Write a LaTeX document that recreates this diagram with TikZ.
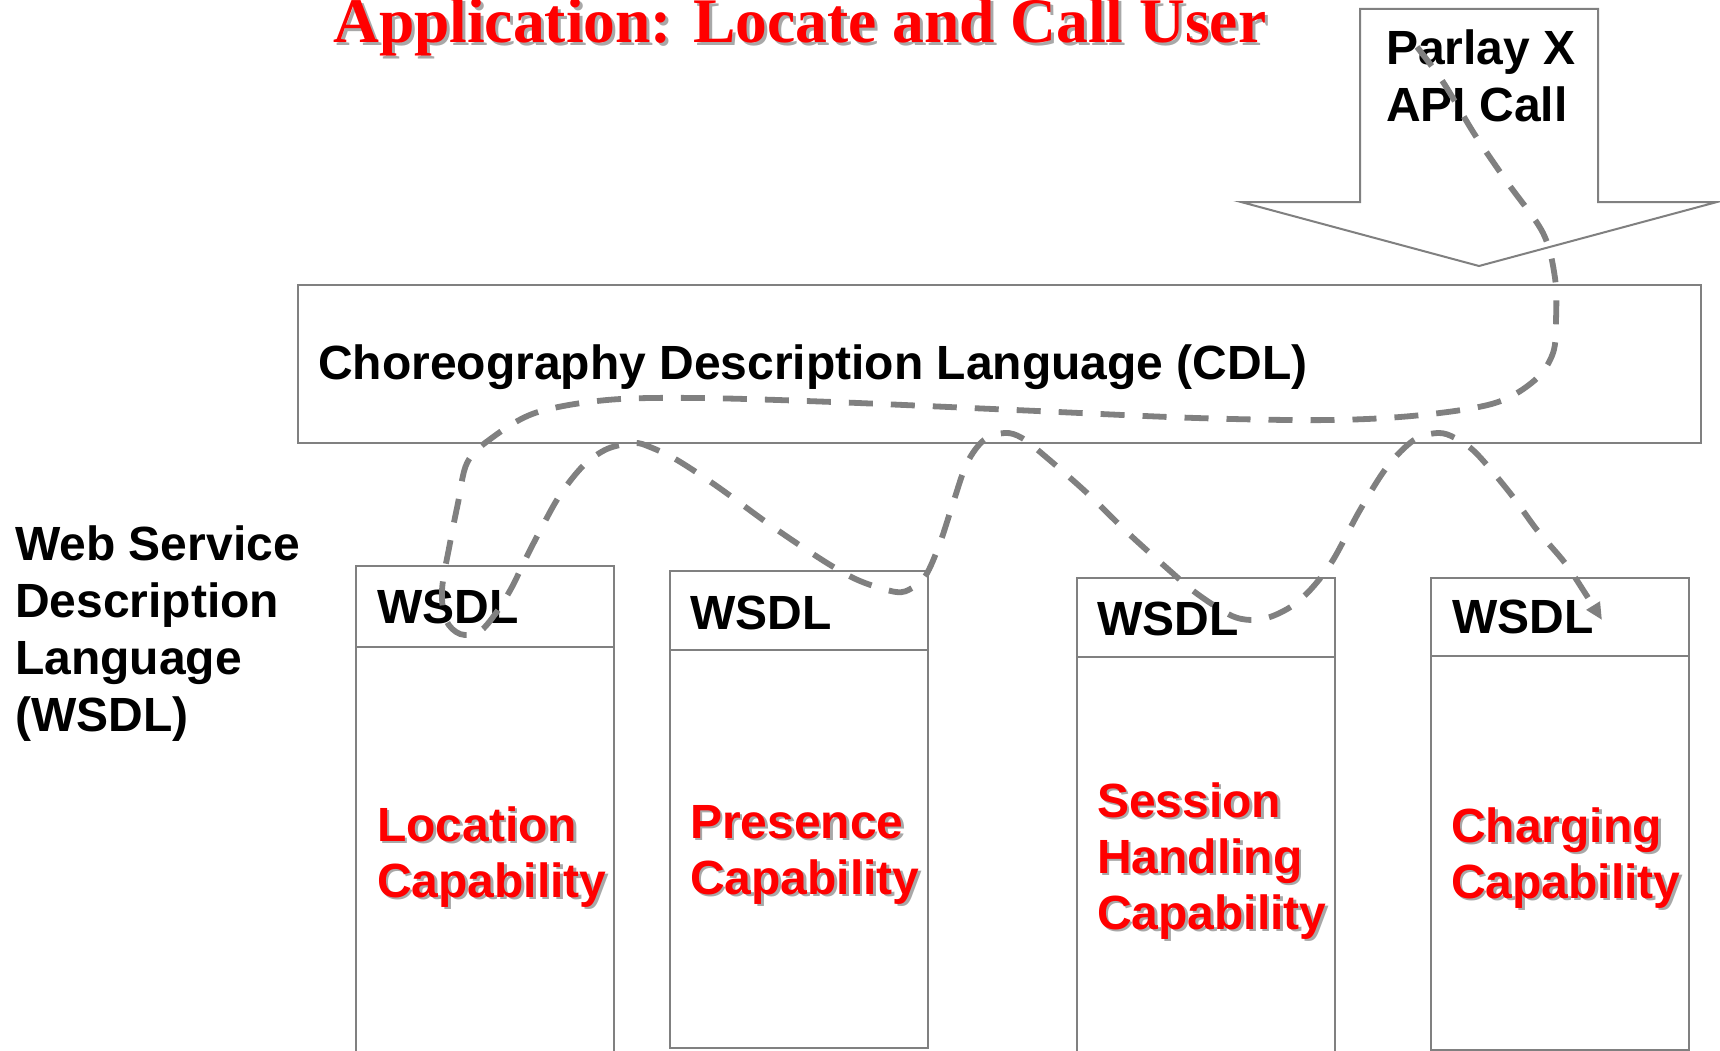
\documentclass[tikz,border=0pt]{standalone}
\usepackage{fontspec}
\setmainfont{Liberation Serif}
\newfontfamily\arialfont{Liberation Sans}
\usetikzlibrary{arrows.meta}

\definecolor{boxgray}{HTML}{808080}
\definecolor{flowgray}{HTML}{808080}
\definecolor{shadowgray}{HTML}{A8A8A8}
\definecolor{capred}{HTML}{FF0000}

% Multi-line labels are anchored at the baseline of their last line.
\tikzset{
  outline/.style={draw=boxgray, line width=2pt},
  boxnode/.style={outline, fill=white, inner sep=0pt, anchor=north west},
  sanslbl/.style={font=\arialfont\bfseries\fontsize{48}{57}\selectfont,
    inner sep=0pt, anchor=base west, align=left},
  caplbl/.style={sanslbl, text=capred,
    font=\arialfont\bfseries\fontsize{48}{56}\selectfont},
  capshadow/.style={caplbl, text=shadowgray},
  titlelbl/.style={font=\bfseries\fontsize{63.5}{70}\selectfont,
    inner sep=0pt, anchor=base west, text=capred},
  titleshadow/.style={titlelbl, text=shadowgray},
  flow/.style={draw=flowgray, line width=5.8pt, dash pattern=on 24pt off 18pt,
    -{Triangle[length=17pt,width=15pt]}},
}

\begin{document}
\begin{tikzpicture}[x=1pt,y=-1pt]
\useasboundingbox (0,0) rectangle (1720,1051);
\clip (0,0) rectangle (1720,1051);
\fill[white] (0,0) rectangle (1720,1051);

% Title
\node[titleshadow] (titleS) at (336,46) {Application: Locate and Call User};
\node[titlelbl] (title) at (333,43) {Application: Locate and Call User};

% Parlay X block arrow
\draw[outline, fill=white] (1360,9) -- (1598,9) -- (1598,202) -- (1717,202)
  -- (1479,266) -- (1241,202) -- (1360,202) -- cycle;
\node[sanslbl] (parlay) at (1386,122) {Parlay X\\API Call};

% Choreography layer
\node[boxnode, minimum width=1403, minimum height=158] (cdl) at (297,284) {};
\node[sanslbl] (cdltext) at (318,379) {Choreography Description Language (CDL)};

% Side caption
\node[sanslbl] (wsdlcap) at (15,731) {Web Service\\Description\\Language\\(WSDL)};

% Capability boxes: WSDL header and body
\node[boxnode, minimum width=258, minimum height=454] (b1) at (355,646) {};
\node[boxnode, minimum width=258, minimum height=81] (h1) at (355,565) {};
\node[boxnode, minimum width=258, minimum height=398] (b2) at (669,649) {};
\node[boxnode, minimum width=258, minimum height=79] (h2) at (669,570) {};
\node[boxnode, minimum width=258, minimum height=454] (b3) at (1076,656) {};
\node[boxnode, minimum width=258, minimum height=79] (h3) at (1076,577) {};
\node[boxnode, minimum width=258, minimum height=394] (b4) at (1430,655) {};
\node[boxnode, minimum width=258, minimum height=78] (h4) at (1430,577) {};

\node[sanslbl] (w1) at (377,623) {WSDL};
\node[sanslbl] (w2) at (690,629) {WSDL};
\node[sanslbl] (w3) at (1097,635) {WSDL};
\node[sanslbl] (w4) at (1452,633) {WSDL};

% Capability names with drop shadow
\node[capshadow] (c1S) at (379.5,899.5) {Location\\Capability};
\node[caplbl] (c1) at (377,897) {Location\\Capability};
\node[capshadow] (c2S) at (692.5,896.5) {Presence\\Capability};
\node[caplbl] (c2) at (690,894) {Presence\\Capability};
\node[capshadow] (c3S) at (1099.5,931.5) {Session\\Handling\\Capability};
\node[caplbl] (c3) at (1097,929) {Session\\Handling\\Capability};
\node[capshadow] (c4S) at (1453.5,900.5) {Charging\\Capability};
\node[caplbl] (c4) at (1451,898) {Charging\\Capability};

% Flow of the call through the capabilities
\coordinate (flowstart) at (1417,47);
\coordinate (flowend) at (1602,620);
\draw[flow] plot[smooth, tension=0.55] coordinates {
  (flowstart) (1443,82) (1475,135) (1507,182) (1543,233) (1555,278)
  (1556,320) (1553,353) (1535,380) (1495,403) (1422,415) (1332,420)
  (1196,418) (1015,410) (833,402) (698,398) (607,400) (535,413)
  (489,440) (467,463) (458,503) (450,543) (442,590) (446,620)
  (460,634) (479,632) (496,613) (512,587) (525,560) (542,527)
  (560,495) (583,466) (607,449) (634,443) (650,447) (677,460)
  (718,487) (773,527) (827,563) (860,581) (896,592) (912,588)
  (926,575) (940,543) (954,500) (967,463) (984,440) (1005,433)
  (1022,438) (1046,457) (1087,493) (1128,533) (1169,570) (1196,593)
  (1230,615) (1251,620) (1270,617) (1292,606) (1312,588) (1333,560)
  (1360,510) (1387,467) (1414,440) (1438,433) (1455,438) (1476,453)
  (1510,493) (1537,530) (1565,563) (1585,593) (flowend)};
\end{tikzpicture}
\end{document}
